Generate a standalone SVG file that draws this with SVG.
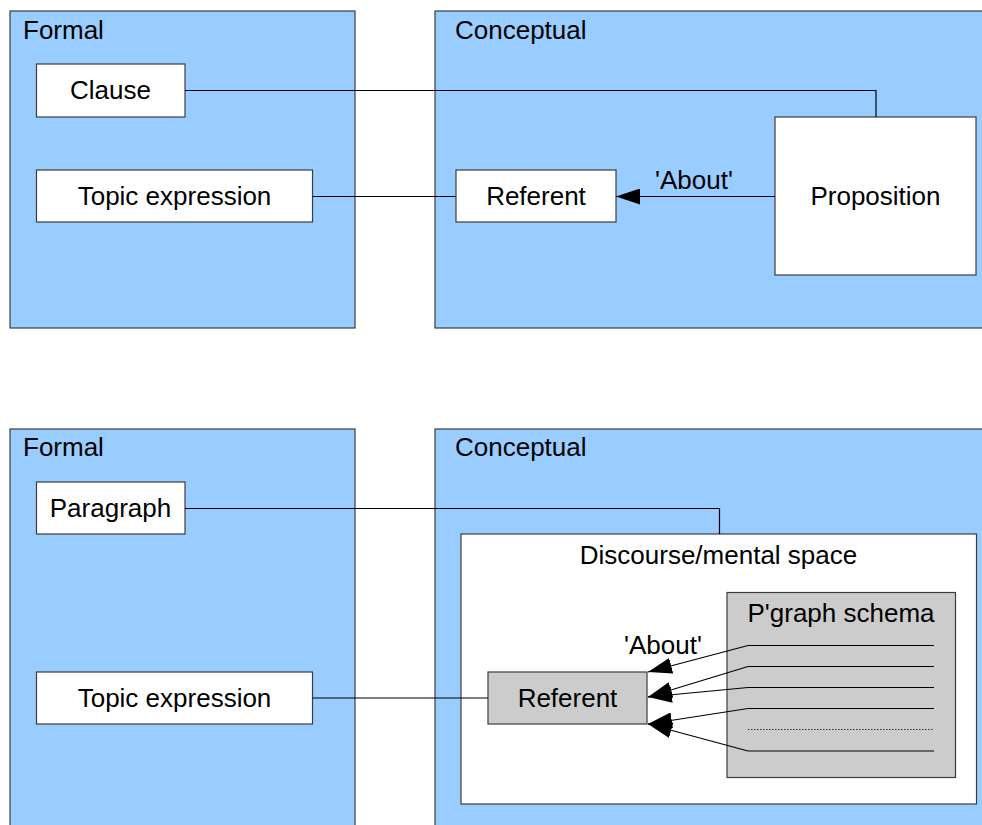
<svg xmlns="http://www.w3.org/2000/svg" width="982" height="825" viewBox="0 0 982 825">
<defs>
<style>
.panel{fill:#99ccff;stroke:#3c3c3c;stroke-width:1.2}
.box{fill:#ffffff;stroke:#3c3c3c;stroke-width:1.2}
.gbox{fill:#cccccc;stroke:#3c3c3c;stroke-width:1.2}
.t{font-family:"Liberation Sans",Arial,sans-serif;font-size:26px;fill:#000}
.c{text-anchor:middle}
.ln{fill:none;stroke:#000;stroke-width:1.2}
.dot{fill:none;stroke:#333;stroke-width:1;stroke-dasharray:1.5,1.5}
</style>
<marker id="ah" viewBox="0 0 24 16" refX="24" refY="8" markerWidth="24" markerHeight="16" markerUnits="userSpaceOnUse" orient="auto">
<path d="M0,0 L24,8 L0,16 Z" fill="#000"/>
</marker>
</defs>

<!-- Top diagram -->
<g id="formal-top">
<rect class="panel" x="10" y="11" width="345" height="317"/>
<text class="t" x="23" y="39">Formal</text>
</g>
<g id="conceptual-top">
<rect class="panel" x="435" y="11" width="560" height="317"/>
<text class="t" x="455" y="39">Conceptual</text>
</g>
<g id="clause">
<rect class="box" x="36.5" y="64" width="148.5" height="53"/>
<text class="t c" x="110.5" y="99">Clause</text>
</g>
<g id="topic-top">
<rect class="box" x="36.5" y="170" width="276" height="52"/>
<text class="t c" x="174.5" y="205">Topic expression</text>
</g>
<g id="referent-top">
<rect class="box" x="456" y="170" width="160" height="52"/>
<text class="t c" x="536" y="205">Referent</text>
</g>
<g id="proposition">
<rect class="box" x="775" y="117" width="201" height="158"/>
<text class="t c" x="875.5" y="205">Proposition</text>
</g>

<!-- Bottom diagram -->
<g id="formal-bottom">
<rect class="panel" x="10" y="429" width="345" height="410"/>
<text class="t" x="23" y="456">Formal</text>
</g>
<g id="conceptual-bottom">
<rect class="panel" x="435" y="429" width="560" height="410"/>
<text class="t" x="455" y="456">Conceptual</text>
</g>
<g id="paragraph">
<rect class="box" x="36.5" y="482" width="148.5" height="52"/>
<text class="t c" x="110.5" y="517">Paragraph</text>
</g>
<g id="topic-bottom">
<rect class="box" x="36.5" y="672" width="276" height="52"/>
<text class="t c" x="174.5" y="707">Topic expression</text>
</g>
<g id="discourse">
<rect class="box" x="461" y="534" width="515.5" height="270"/>
<text class="t c" x="718.5" y="564">Discourse/mental space</text>
</g>
<g id="pgraph-schema">
<rect class="gbox" x="727" y="592.5" width="228.5" height="185"/>
<text class="t c" x="841" y="622">P'graph schema</text>
<line class="ln" x1="748" y1="645.5" x2="934" y2="645.5"/>
<line class="ln" x1="748" y1="666.5" x2="934" y2="666.5"/>
<line class="ln" x1="748" y1="687.5" x2="934" y2="687.5"/>
<line class="ln" x1="748" y1="708.5" x2="934" y2="708.5"/>
<line class="dot" x1="748" y1="729.5" x2="934" y2="729.5"/>
<line class="ln" x1="748" y1="751" x2="934" y2="751"/>
</g>
<g id="referent-bottom">
<rect class="gbox" x="488" y="672" width="159" height="52"/>
<text class="t c" x="567.5" y="707">Referent</text>
</g>

<g id="connectors">
<polyline class="ln" points="185,90.5 876,90.5 876,117"/>
<line class="ln" x1="312.5" y1="196.5" x2="456" y2="196.5"/>
<line class="ln" x1="775" y1="196.5" x2="616" y2="196.5" marker-end="url(#ah)"/>
<text class="t" x="655" y="189">'About'</text>

<polyline class="ln" points="185,508.5 719.5,508.5 719.5,534"/>
<line class="ln" x1="312.5" y1="698" x2="488" y2="698"/>
<line class="ln" x1="748" y1="645.5" x2="648" y2="672" marker-end="url(#ah)"/>
<line class="ln" x1="748" y1="666.5" x2="648" y2="697" marker-end="url(#ah)"/>
<line class="ln" x1="748" y1="687.5" x2="648" y2="697" marker-end="url(#ah)"/>
<line class="ln" x1="748" y1="708.5" x2="648" y2="724" marker-end="url(#ah)"/>
<line class="ln" x1="748" y1="751" x2="648" y2="724" marker-end="url(#ah)"/>
<text class="t" x="624" y="653.5">'About'</text>
</g>
</svg>
